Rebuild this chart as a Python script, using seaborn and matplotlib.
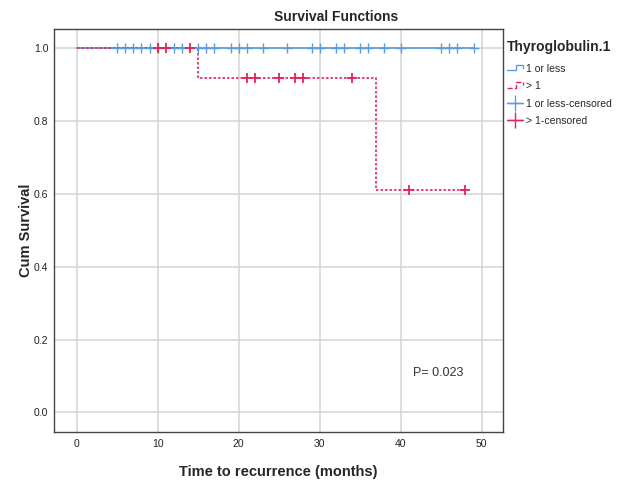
import numpy as np
import pandas as pd
import seaborn as sns
import matplotlib.pyplot as plt
from matplotlib.lines import Line2D
from matplotlib.legend_handler import HandlerBase

sns.set_style('white')
plt.rcParams['font.family'] = ['Liberation Sans', 'DejaVu Sans']

# step curves (time, cum survival)
low_time = [0, 49]
low_surv = [1.0, 1.0]
high_time = [0, 15, 37, 48]
high_surv = [1.0, 0.917, 0.611, 0.611]

# censored cases
low_cens_time = [5, 6, 7, 8, 9, 10, 12, 13, 15, 16, 17, 19, 20, 21, 23, 26, 29, 30,
                 32, 33, 35, 36, 38, 40, 45, 46, 47, 49]
low_cens_surv = [1.0] * len(low_cens_time)
high_cens_time = [10, 11, 14, 21, 22, 25, 27, 28, 34, 41, 48]
high_cens_surv = [1.0, 1.0, 1.0, 0.917, 0.917, 0.917, 0.917, 0.917, 0.917, 0.611, 0.611]

group_names = ['1 or less', '> 1']
p_text = 'P= 0.023'

blue = '#5b9be0'
red = '#e3245a'

curves = pd.DataFrame({
    'time': low_time + high_time,
    'surv': low_surv + high_surv,
    'group': [group_names[0]] * len(low_time) + [group_names[1]] * len(high_time),
})
cens = pd.DataFrame({
    'time': low_cens_time + high_cens_time,
    'surv': low_cens_surv + high_cens_surv,
    'group': [group_names[0]] * len(low_cens_time) + [group_names[1]] * len(high_cens_time),
})

fig = plt.figure(figsize=(6.17, 4.83), dpi=100)
ax = fig.add_axes([0.0875, 0.106, 0.7285, 0.834])

sns.lineplot(data=curves[curves.group == group_names[0]], x='time', y='surv',
             color=blue, lw=1.2, drawstyle='steps-post', estimator=None, sort=False,
             ax=ax, legend=False, zorder=3)
sns.lineplot(data=curves[curves.group == group_names[1]], x='time', y='surv',
             color=red, lw=1.2, linestyle=(0, (1.5, 1.2)), drawstyle='steps-post',
             estimator=None, sort=False, ax=ax, legend=False, zorder=4)
sns.scatterplot(data=cens[cens.group == group_names[0]], x='time', y='surv',
                marker='+', s=50, linewidth=1.0, color=blue, ax=ax, legend=False, zorder=5)
sns.scatterplot(data=cens[cens.group == group_names[1]], x='time', y='surv',
                marker='+', s=50, linewidth=1.3, color=red, ax=ax, legend=False, zorder=6)

ax.set_xlim(-2.8, 52.7)
ax.set_ylim(-0.053, 1.052)
ax.set_xticks([0, 10, 20, 30, 40, 50])
ax.set_yticks([0.0, 0.2, 0.4, 0.6, 0.8, 1.0])
ax.set_yticklabels(['0.0', '0.2', '0.4', '0.6', '0.8', '1.0'])
ax.grid(True, color='#d4d4d4', lw=1.1)
ax.set_axisbelow(True)
for s in ax.spines.values():
    s.set_color('#444444')
    s.set_linewidth(1.0)
ax.tick_params(length=0, labelsize=7.5, colors='#222222')
ax.tick_params(axis='x', pad=5)
ax.tick_params(axis='y', pad=4)
ax.set_xlabel('Time to recurrence (months)', fontsize=10.5, fontweight='bold', labelpad=12)
ax.set_ylabel('Cum Survival', fontsize=10.5, fontweight='bold', labelpad=1)
ax.text(44.6, 0.108, p_text, fontsize=9, color='#333333', ha='center', va='center')

fig.text(0.545, 0.965, 'Survival Functions', fontsize=10, fontweight='bold',
         ha='center', va='center')


class StepHandler(HandlerBase):
    def create_artists(self, legend, orig_handle, xdescent, ydescent, width, height,
                       fontsize, trans):
        x = np.array([0, 0.55, 0.55, 0.95, 0.95]) * width - xdescent
        y = np.array([0.2, 0.2, 0.9, 0.9, 0.55]) * height - ydescent
        ln = Line2D(x, y, color=orig_handle.get_color(), lw=1.0,
                    linestyle=orig_handle.get_linestyle())
        ln.set_transform(trans)
        return [ln]


h_low = Line2D([], [], color=blue, linestyle='-')
h_high = Line2D([], [], color=red, linestyle=(0, (1.5, 1.2)))
h_low_c = Line2D([], [], color=blue, marker='+', markersize=11, lw=1.0)
h_high_c = Line2D([], [], color=red, marker='+', markersize=11, lw=1.0)
leg = fig.legend([h_low, h_high, h_low_c, h_high_c],
                 [group_names[0], group_names[1],
                  group_names[0] + '-censored', group_names[1] + '-censored'],
                 handler_map={h_low: StepHandler(), h_high: StepHandler()},
                 loc='upper left', bbox_to_anchor=(0.806, 0.937), frameon=False,
                 fontsize=7.5, title='Thyroglobulin.1', handlelength=1.6,
                 handletextpad=0.25, labelspacing=0.72, alignment='left')
leg.get_title().set_fontweight('bold')
leg.get_title().set_fontsize(10)
leg._legend_box.sep = 7

fig.savefig('out.png', dpi=100)
